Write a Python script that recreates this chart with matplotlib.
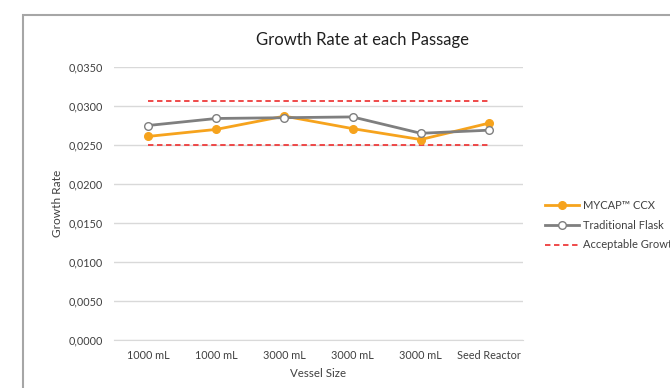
import matplotlib as mpl
mpl.use('Agg')
import matplotlib.pyplot as plt
import matplotlib.ticker as ticker
from matplotlib.patches import Rectangle

vessels = ['1000 mL', '1000 mL', '3000 mL', '3000 mL', '3000 mL', 'Seed Reactor']
mycap = [0.0261, 0.0270, 0.0287, 0.0271, 0.0257, 0.0278]
flask = [0.0275, 0.0284, 0.0285, 0.0286, 0.0265, 0.0269]
upper_limit = [0.0306] * 6
lower_limit = [0.0250] * 6

plt.rcParams['font.family'] = ['Lato', 'DejaVu Sans']

W, H = 670, 388
fig = plt.figure(figsize=(W / 100, H / 100), dpi=100)

# outer chart frame
fig.patches.append(Rectangle((23 / W, -0.1), 1.1, 1 - 15 / H + 0.1,
                             transform=fig.transFigure, fill=False,
                             edgecolor='#a6a6a6', linewidth=1.5))

ax = fig.add_axes([114 / W, 1 - 340 / H, (523 - 114) / W, (340 - 67) / H])
x = list(range(len(vessels)))

ax.plot(x, upper_limit, '--', color='#ee3b3b', linewidth=1.3, dashes=(3, 2),
        label='Acceptable Growth Rate')
ax.plot(x, lower_limit, '--', color='#ee3b3b', linewidth=1.3, dashes=(3, 2))
ax.plot(x, mycap, '-o', color='#f6a31d', linewidth=2.0, markersize=5.5,
        label='MYCAP™ CCX', zorder=3)
ax.plot(x, flask, '-o', color='#7f7f7f', linewidth=2.0, markersize=5.5,
        markerfacecolor='white', markeredgecolor='#7f7f7f', markeredgewidth=1.0,
        label='Traditional Flask', zorder=4)

ax.set_xlim(-0.5, 5.5)
ax.set_ylim(0, 0.035)
ax.yaxis.set_major_locator(ticker.MultipleLocator(0.005))
ax.yaxis.set_major_formatter(ticker.FuncFormatter(lambda v, p: '{:.4f}'.format(v).replace('.', ',')))
ax.set_xticks(x)
ax.set_xticklabels(vessels)
ax.grid(axis='y', color='#d9d9d9', linewidth=1)
ax.set_axisbelow(True)
for s in ['top', 'right', 'left']:
    ax.spines[s].set_visible(False)
ax.spines['bottom'].set_color('#d9d9d9')
ax.tick_params(length=0, labelsize=7.8, colors='#404040')
ax.tick_params(axis='x', pad=7)
ax.tick_params(axis='y', pad=8)

ax.set_xlabel('Vessel Size', fontsize=8.3, color='#404040', labelpad=5)
ax.set_ylabel('Growth Rate', fontsize=8.6, color='#404040', labelpad=4)
fig.text(362 / W, 1 - 40 / H, 'Growth Rate at each Passage', fontsize=12,
         color='#202020', ha='center', va='center')

h, l = ax.get_legend_handles_labels()
order = [1, 2, 0]
fig.legend([h[i] for i in order], [l[i] for i in order], loc='center left',
           bbox_to_anchor=(545 / W, 1 - 225 / H), frameon=False, fontsize=8,
           borderpad=0, borderaxespad=0, handlelength=3.1, handletextpad=0.35,
           labelspacing=0.8, labelcolor='#404040')

fig.savefig('out.png', dpi=100)
